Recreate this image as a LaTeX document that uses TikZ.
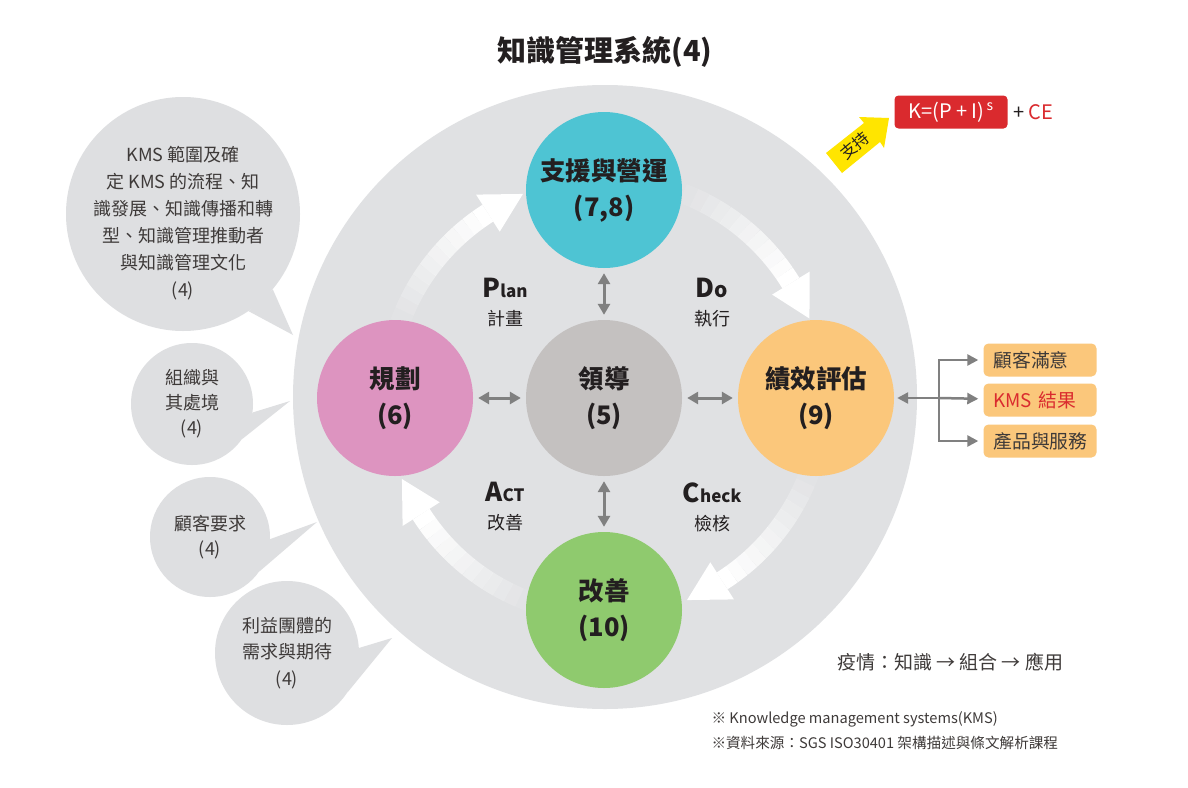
\documentclass[tikz,border=0pt]{standalone}
\usepackage{fontspec}
\setmainfont{Noto Sans CJK TC}
\usetikzlibrary{arrows.meta,calc,positioning}
\definecolor{bigbg}{HTML}{E0E1E3}
\definecolor{bubblebg}{HTML}{DEDFE1}
\definecolor{supportcol}{HTML}{4EC4D3}
\definecolor{plancol}{HTML}{DD94C0}
\definecolor{leadcol}{HTML}{C4C1C0}
\definecolor{evalcol}{HTML}{FBC77B}
\definecolor{improvecol}{HTML}{8FCA6E}
\definecolor{kmsred}{HTML}{DA2A2E}
\definecolor{supyellow}{HTML}{FFE500}
\definecolor{arrowgray}{HTML}{808080}
\definecolor{textdark}{HTML}{231F20}
\definecolor{textgray}{HTML}{3E3A39}
\begin{document}
\begin{tikzpicture}[x=1pt,y=-1pt,
  clause/.style={circle, minimum size=156pt, inner sep=0pt, align=center, text=textdark, font=\fontsize{25.5}{36}\selectfont\bfseries},
  bubble/.style={circle, fill=bubblebg, inner sep=0pt, align=center, text=textgray, font=\fontsize{18}{26.5}\selectfont},
  phase/.style={align=center, text=textdark, font=\fontsize{18}{28}\selectfont},
  gaplink/.style={draw=arrowgray, line width=3pt, {Triangle[length=11pt,width=12pt]}-{Triangle[length=11pt,width=12pt]}, shorten <=5pt, shorten >=5pt},
  result/.style={fill=evalcol, rounded corners=5pt, text width=93pt, inner xsep=10pt, minimum height=33pt, align=left, text=textgray, font=\fontsize{18.8}{18.8}\selectfont},
  branch/.style={draw=arrowgray, line width=2.5pt, -{Triangle[length=11pt,width=11pt]}},
]
\useasboundingbox (0,0) rectangle (1188,787);
\fill[white] (0,0) rectangle (1188,787);

% title
\node[font=\fontsize{29}{29}\selectfont\bfseries, text=textdark] (title) at (605,52) {知識管理系統(4)};

% speech bubbles on the left
\node[bubble, minimum size=234pt] (scope) at (183,214) {};
\fill[bubblebg] (scope.-40) -- (293,335) -- (scope.-56) -- cycle;
\node[align=center, text=textgray, font=\fontsize{18}{27}\selectfont] (scopetext) at (183,223) {KMS 範圍及確\\定 KMS 的流程、知\\識發展、知識傳播和轉\\型、知識管理推動者\\與知識管理文化\\(4)};
\node[bubble, minimum size=122pt, font=\fontsize{18}{25}\selectfont] (context) at (192,404) {組織與\\其處境\\(4)};
\fill[bubblebg] (context.-8) -- (290,401) -- (context.-35) -- cycle;
\node[bubble, minimum size=120pt, font=\fontsize{18}{25}\selectfont] (customer) at (210,537) {顧客要求\\(4)};
\fill[bubblebg] (customer.-2) -- (317,522) -- (customer.-35) -- cycle;
\node[bubble, minimum size=144pt] (parties) at (287,653) {利益團體的\\需求與期待\\(4)};
\fill[bubblebg] (parties.4) -- (392,638) -- (parties.-33) -- cycle;

% big circle
\coordinate (hub) at (605,397);
\fill[bigbg] (hub) circle[radius=312pt];

% PDCA arrows
\foreach \tip in {112,21,-68,-158}{
  \foreach \k [evaluate=\k as \a using \tip+48-\k*3.125, evaluate=\k as \op using (\k+1)/12] in {0,...,11}
    \draw[white, line width=20pt, opacity=\op] ($(hub)+(\a:218pt)$) arc[start angle=\a, end angle=\a-3.125, radius=218pt];
  \fill[white] ($(hub)+(\tip+10.5:196pt)$) -- ($(hub)+(\tip:219pt)$) -- ($(hub)+(\tip+10.5:240pt)$) -- cycle;
}

% clauses
\node[clause, fill=supportcol] (support) at (604,190) {支援與營運\\(7,8)};
\node[clause, fill=plancol] (planning) at (395,398) {規劃\\(6)};
\node[clause, fill=leadcol] (leader) at (604,398) {領導\\(5)};
\node[clause, fill=evalcol] (evaluation) at (816,398) {績效評估\\(9)};
\node[clause, fill=improvecol] (improve) at (604,610) {改善\\(10)};

\draw[gaplink] (support) -- (leader);
\draw[gaplink] (planning) -- (leader);
\draw[gaplink] (leader) -- (evaluation);
\draw[gaplink] (leader) -- (improve);

% PDCA labels
\node[phase] (plan) at (505,303) {{\fontsize{26}{26}\selectfont\bfseries P}{\fontsize{17}{17}\selectfont\bfseries lan}\\計畫};
\node[phase] (do) at (712,303) {{\fontsize{26}{26}\selectfont\bfseries D}{\fontsize{21}{21}\selectfont\bfseries o}\\執行};
\node[phase] (act) at (505,507) {{\fontsize{26}{26}\selectfont\bfseries A}{\fontsize{17}{17}\selectfont\bfseries CT}\\改善};
\node[phase] (check) at (712,507) {{\fontsize{26}{26}\selectfont\bfseries C}{\fontsize{17}{17}\selectfont\bfseries heck}\\檢核};

% results
\node[result] (satisfy) at (1040,360) {顧客滿意};
\node[result, text=kmsred] (kmsresult) at (1040,400) {KMS 結果};
\node[result] (product) at (1040,441) {產品與服務};
\coordinate (fork) at (939,398);
\draw[branch, {Triangle[length=11pt,width=11pt]}-, shorten <=3pt] (evaluation) -- (fork);
\draw[branch, shorten >=5pt] (fork) |- (satisfy);
\draw[branch, shorten >=5pt] (fork) -- (kmsresult);
\draw[branch, shorten >=5pt] (fork) |- (product);

% formula
\node[fill=kmsred, rounded corners=4pt, text=white, minimum width=113pt, minimum height=33pt, font=\fontsize{20}{20}\selectfont] (formula) at (951,112) {K=(P + I)\textsuperscript{\,s}};
\node[right=2pt of formula, text=textdark, font=\fontsize{20}{20}\selectfont] (ce) {+ \textcolor{kmsred}{CE}};
\fill[supyellow] (826,153) -- (864,123) -- (859,117) -- (889,118) -- (884,148) -- (880,142) -- (842,173) -- cycle;
\node[rotate=40, text=textdark, font=\fontsize{16}{16}\selectfont] (backing) at (855,146) {支持};

% notes
\node[text=textgray, font=\fontsize{19}{19}\selectfont] (pandemic) at (950,662) {疫情：知識 → 組合 → 應用};
\node[anchor=west, text=textgray, font=\fontsize{14.6}{14.6}\selectfont] (note1) at (708,719) {※ Knowledge management systems(KMS)};
\node[anchor=west, text=textgray, font=\fontsize{14.6}{14.6}\selectfont] (note2) at (708,743) {※資料來源：SGS ISO30401 架構描述與條文解析課程};
\end{tikzpicture}
\end{document}
